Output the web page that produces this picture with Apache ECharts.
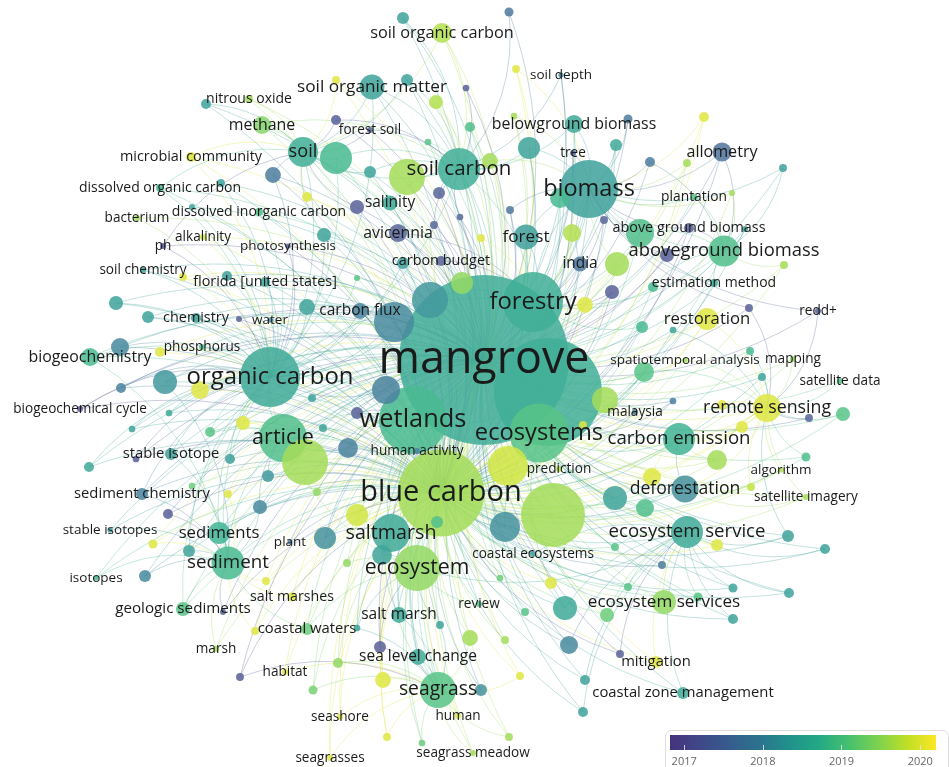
<!DOCTYPE html>
<html>
<head>
<meta charset="utf-8">
<title>Keyword co-occurrence overlay</title>
<script src="https://cdn.jsdelivr.net/npm/echarts@6/dist/echarts.min.js"></script>
<style>
  html, body { margin: 0; padding: 0; background: #ffffff; }
  #chart { width: 949px; height: 767px; }
</style>
</head>
<body>
<div id="chart"></div>
<script>
// Each term: [label, layout x, layout y, occurrences, average publication year, linked hub codes]

// hub code -> hub term
const hubCode = {
  M: 'mangrove', B: 'blue carbon', W: 'wetlands', E: 'ecosystems', F: 'forestry',
  O: 'organic carbon', S: 'soil carbon', I: 'biomass', A: 'article', Y: 'ecosystem',
  T: 'saltmarsh', L: 'sediment', G: 'seagrass', C: 'ecosystem service', D: 'deforestation',
  R: 'remote sensing', K: 'carbon emission', P: 'aboveground biomass', Q: 'soil'
};

const coreTerms = [
  ['mangrove', 484, 360, 3211, 2018.55, ''],
  ['blue carbon', 441, 493, 841, 2019.6, 'M'],
  ['wetlands', 413, 420, 514, 2018.8, 'M B'],
  ['ecosystems', 539, 433, 387, 2019.0, 'M B W'],
  ['forestry', 533, 302, 400, 2018.6, 'M B I W'],
  ['organic carbon', 270, 377, 400, 2018.5, 'M B W F'],
  ['biomass', 589, 189, 374, 2018.35, 'M F B W'],
  ['soil carbon', 459, 169, 196, 2018.6, 'M O F Q B'],
  ['article', 283, 438, 256, 2018.9, 'M B W O'],
  ['ecosystem', 417, 568, 235, 2019.5, 'M B W A'],
  ['saltmarsh', 391, 533, 160, 2018.5, 'M B Y W'],
  ['sediment', 228, 563, 121, 2018.8, 'M B O A'],
  ['seagrass', 438, 690, 144, 2019.0, 'M B Y T'],
  ['ecosystem service', 687, 532, 114, 2018.5, 'M B E Y'],
  ['carbon emission', 679, 439, 114, 2018.7, 'M B E'],
  ['deforestation', 685, 489, 81, 2018.1, 'M B E K'],
  ['remote sensing', 767, 408, 87, 2020.0, 'M E D K B'],
  ['aboveground biomass', 724, 251, 107, 2018.9, 'M I F B'],
  ['soil', 303, 152, 100, 2018.6, 'M O B']
];

const northTerms = [
  ['soil organic carbon', 442, 33, 44, 2019.7, 'S Q M B'],
  ['soil depth', 561, 75, 3, 2018.0, 'S M B'],
  ['soil organic matter', 372, 87, 69, 2018.4, 'S Q M O B'],
  ['nitrous oxide', 249, 99, 7, 2019.6, 'Q M B'],
  ['methane', 262, 125, 36, 2019.4, 'Q S M B'],
  ['forest soil', 370, 130, 4, 2017.3, 'S Q M'],
  ['belowground biomass', 574, 124, 36, 2018.5, 'I S M B'],
  ['tree', 573, 153, 4, 2017.3, 'I M B'],
  ['microbial community', 191, 157, 11, 2020.0, 'Q O M B'],
  ['dissolved organic carbon', 160, 188, 7, 2018.8, 'O Q M B'],
  ['dissolved inorganic carbon', 259, 212, 7, 2018.9, 'O M B'],
  ['bacterium', 137, 218, 4, 2019.6, 'O M'],
  ['alkalinity', 203, 237, 4, 2019.9, 'O M B'],
  ['ph', 163, 246, 4, 2017.1, 'O Q M'],
  ['photosynthesis', 288, 246, 3, 2017.2, 'M O B'],
  ['salinity', 390, 203, 25, 2018.5, 'M S B'],
  ['avicennia', 398, 233, 36, 2017.3, 'M F B'],
  ['forest', 526, 237, 69, 2018.3, 'M I F B'],
  ['india', 580, 264, 25, 2017.7, 'M F I B'],
  ['carbon budget', 441, 261, 11, 2017.2, 'M F B'],
  ['allometry', 722, 152, 40, 2017.6, 'I P M B'],
  ['plantation', 694, 197, 5, 2019.0, 'I P M'],
  ['above ground biomass', 689, 228, 11, 2017.2, 'I P M B'],
  ['estimation method', 714, 283, 7, 2018.5, 'P I M B'],
  ['carbon flux', 360, 311, 28, 2017.9, 'M O W B']
];

const westTerms = [
  ['soil chemistry', 143, 270, 4, 2018.4, 'O M B'],
  ['florida [united states]', 265, 282, 11, 2018.4, 'M O B'],
  ['chemistry', 196, 318, 11, 2018.4, 'O M B'],
  ['water', 270, 320, 3, 2018.0, 'O M B'],
  ['phosphorus', 202, 347, 4, 2018.9, 'O M B'],
  ['biogeochemistry', 90, 357, 36, 2018.8, 'O M L B'],
  ['biogeochemical cycle', 80, 409, 4, 2017.1, 'O M B'],
  ['stable isotope', 171, 454, 16, 2018.4, 'O L M B'],
  ['sediment chemistry', 142, 494, 16, 2017.9, 'O L M B'],
  ['stable isotopes', 110, 530, 3, 2018.3, 'L M B'],
  ['sediments', 219, 533, 54, 2018.7, 'M B O L'],
  ['isotopes', 96, 578, 3, 2018.8, 'L M B'],
  ['plant', 290, 542, 3, 2017.7, 'M B'],
  ['geologic sediments', 183, 609, 22, 2019.0, 'L O M B'],
  ['salt marshes', 292, 597, 9, 2020.0, 'L B M'],
  ['coastal waters', 307, 629, 16, 2019.2, 'B L Y M'],
  ['marsh', 216, 649, 4, 2019.6, 'L B M'],
  ['habitat', 285, 672, 4, 2020.0, 'G B M'],
  ['human activity', 417, 451, 4, 2017.9, 'M W B']
];

const southTerms = [
  ['salt marsh', 399, 615, 28, 2018.5, 'M B Y T G'],
  ['coastal ecosystems', 533, 554, 4, 2018.3, 'M B C'],
  ['review', 479, 604, 4, 2019.0, 'B Y M'],
  ['sea level change', 418, 657, 28, 2018.5, 'M B G'],
  ['seashore', 340, 717, 4, 2020.0, 'G B M'],
  ['human', 458, 716, 4, 2020.0, 'G B M'],
  ['seagrass meadow', 473, 753, 4, 2019.6, 'G B M'],
  ['seagrasses', 330, 758, 4, 2020.0, 'G B M'],
  ['ecosystem services', 664, 602, 64, 2019.5, 'M B C'],
  ['mitigation', 656, 662, 16, 2020.0, 'C B M'],
  ['coastal zone management', 683, 693, 16, 2018.5, 'C M B']
];

const eastTerms = [
  ['restoration', 707, 319, 54, 2020.0, 'M B E R'],
  ['redd+', 818, 311, 4, 2017.3, 'R I M'],
  ['spatiotemporal analysis', 685, 360, 3, 2019.6, 'R M B'],
  ['mapping', 793, 359, 4, 2019.5, 'R M B'],
  ['satellite data', 840, 381, 4, 2019.0, 'R M'],
  ['malaysia', 635, 412, 4, 2017.8, 'M E B'],
  ['prediction', 559, 469, 4, 2019.7, 'M E B'],
  ['algorithm', 781, 470, 3, 2019.7, 'R D B'],
  ['satellite imagery', 806, 497, 4, 2019.6, 'R D M B']
];

// Terms whose labels are hidden: [layout x, layout y, occurrences, average year, linked hub codes]
const otherTerms = [
  [548, 392, 1296, 2018.6, 'M B W E F'],
  [403, 18, 16, 2018.4, 'S M B'], [509, 12, 9, 2017.7, 'S M'], [516, 69, 7, 2020.0, 'I M B'],
  [407, 80, 16, 2018.4, 'S Q M B'], [466, 88, 5, 2017.2, 'S M'], [336, 80, 7, 2020.0, 'Q M B'],
  [436, 102, 22, 2019.7, 'S M B'], [206, 104, 11, 2018.4, 'Q M B'], [336, 120, 11, 2017.2, 'Q S M'],
  [470, 127, 11, 2018.9, 'S M B'], [428, 142, 5, 2019.0, 'S M B'], [514, 116, 5, 2019.6, 'I M B'],
  [628, 119, 9, 2017.8, 'I M'], [529, 148, 54, 2018.4, 'I S M B'], [616, 145, 16, 2018.5, 'I M B'],
  [336, 158, 114, 2018.8, 'Q S M O B'], [407, 177, 144, 2019.6, 'S M B W'], [490, 161, 28, 2019.6, 'S I M B'],
  [370, 172, 16, 2018.4, 'S Q M B'], [439, 193, 16, 2017.3, 'S M B'], [357, 207, 22, 2017.2, 'M Q B'],
  [560, 198, 44, 2018.8, 'I M B'], [704, 117, 11, 2020.0, 'I M B'], [650, 162, 11, 2017.8, 'I P M'],
  [687, 163, 7, 2019.6, 'I M B'], [783, 168, 7, 2018.4, 'P I M'], [732, 193, 4, 2019.6, 'P I B'],
  [745, 229, 4, 2018.4, 'P M B'], [640, 233, 87, 2018.9, 'I P M F B'], [667, 255, 22, 2017.2, 'I P M'],
  [572, 233, 36, 2019.7, 'I M F B'], [604, 220, 7, 2017.3, 'I M B'], [481, 238, 7, 2020.0, 'M F B'],
  [434, 225, 7, 2017.3, 'M S B'], [460, 217, 5, 2017.4, 'M S B'], [510, 210, 7, 2017.7, 'I M B'],
  [617, 264, 64, 2019.6, 'M I F B'], [612, 292, 22, 2017.2, 'M F B'], [403, 263, 16, 2018.3, 'M O B'],
  [324, 235, 22, 2018.4, 'M O Q B'], [273, 175, 28, 2017.8, 'Q O M B'], [307, 197, 11, 2020.0, 'Q M B'],
  [221, 183, 7, 2018.4, 'O M B'], [192, 207, 4, 2018.4, 'O M B'], [183, 277, 7, 2020.0, 'O M B'],
  [227, 276, 11, 2018.3, 'O M B'], [148, 317, 16, 2018.4, 'O M B'], [116, 303, 22, 2018.4, 'O M B'],
  [239, 319, 4, 2017.2, 'O M B'], [160, 352, 11, 2020.0, 'O M B'], [120, 347, 36, 2018.0, 'O M B'],
  [165, 382, 64, 2018.2, 'O M L B'], [200, 390, 36, 2020.0, 'O B M'], [121, 388, 11, 2017.9, 'O M B'],
  [169, 413, 5, 2018.5, 'O M B'], [243, 423, 22, 2020.0, 'O A B M'], [210, 432, 11, 2019.0, 'O A M B'],
  [132, 429, 5, 2018.4, 'O M B'], [305, 462, 235, 2019.6, 'M B A W O'], [136, 459, 5, 2017.2, 'O M B'],
  [230, 459, 11, 2018.3, 'O A M B'], [89, 467, 11, 2018.5, 'O M B'], [228, 494, 7, 2020.0, 'L A B M'],
  [192, 486, 5, 2019.2, 'L M B'], [268, 476, 16, 2018.2, 'A M B'], [168, 514, 11, 2017.2, 'L M B'],
  [153, 544, 9, 2020.0, 'L B M'], [189, 551, 16, 2018.4, 'L O M B'], [145, 576, 16, 2018.0, 'L M B'],
  [266, 581, 7, 2020.0, 'L B M'], [223, 612, 4, 2017.3, 'L M B'], [255, 631, 7, 2020.0, 'L B M'],
  [357, 628, 5, 2018.4, 'Y G M B'], [240, 677, 7, 2017.2, 'G M B'], [313, 690, 9, 2019.3, 'G B M'],
  [325, 538, 54, 2018.1, 'M B T W'], [382, 555, 44, 2018.4, 'T Y B M'], [437, 522, 16, 2018.9, 'B T M'],
  [357, 515, 54, 2019.9, 'B T M W'], [505, 527, 100, 2018.1, 'M B E W'], [553, 515, 455, 2019.6, 'M B E C W'],
  [440, 625, 7, 2018.4, 'Y G M B'], [470, 638, 28, 2019.6, 'B G M'], [380, 647, 16, 2017.2, 'G Y M B'],
  [338, 663, 11, 2019.5, 'G B M'], [383, 680, 28, 2020.0, 'G B M'], [481, 690, 16, 2018.1, 'G M B'],
  [387, 737, 7, 2020.0, 'G B M'], [509, 737, 7, 2019.6, 'G B M'], [422, 743, 5, 2019.2, 'G B M'],
  [505, 640, 7, 2019.6, 'B M'], [565, 608, 64, 2018.5, 'M B C E'], [569, 645, 36, 2018.0, 'C B M'],
  [525, 612, 7, 2019.0, 'B M'], [628, 587, 7, 2019.0, 'C M B'], [551, 583, 16, 2020.0, 'B M E'],
  [500, 578, 5, 2019.2, 'B M'], [607, 615, 22, 2019.2, 'C B M'], [698, 597, 9, 2019.0, 'C M B'],
  [733, 588, 9, 2018.4, 'C M B'], [733, 619, 11, 2018.4, 'C M B'], [789, 593, 11, 2018.4, 'C M B'],
  [620, 654, 7, 2017.2, 'C M B'], [585, 680, 11, 2018.4, 'C M B'], [583, 712, 11, 2018.4, 'C B M'],
  [520, 676, 7, 2020.0, 'B G M'], [717, 545, 16, 2020.0, 'C B M'], [662, 565, 7, 2017.8, 'C M B'],
  [788, 536, 16, 2018.4, 'C R M B'], [825, 549, 11, 2018.4, 'C M B'], [615, 498, 64, 2018.4, 'M E D B'],
  [645, 508, 36, 2018.9, 'E D C M B'], [652, 477, 36, 2020.0, 'E K M B'], [751, 487, 7, 2019.8, 'R B M'],
  [806, 457, 9, 2018.9, 'R M B'], [717, 460, 44, 2019.6, 'K R E M B'], [742, 427, 16, 2020.0, 'R K M B'],
  [722, 405, 11, 2020.0, 'R M B'], [809, 418, 7, 2017.3, 'R M'], [843, 414, 22, 2019.0, 'R M B'],
  [673, 401, 5, 2017.8, 'E M B'], [605, 400, 75, 2019.6, 'M E B'], [644, 372, 44, 2019.0, 'M E R B'],
  [762, 377, 7, 2018.4, 'R M B'], [750, 351, 7, 2018.8, 'R M B'], [642, 327, 16, 2018.8, 'M F B'],
  [673, 330, 5, 2018.4, 'M R B'], [653, 287, 11, 2018.8, 'P F M B'], [749, 308, 7, 2017.2, 'R I M'],
  [784, 265, 7, 2019.6, 'P M B'], [585, 305, 28, 2020.0, 'M F B'], [462, 283, 54, 2019.5, 'M F B W'],
  [394, 322, 178, 2018.0, 'M O W B'], [430, 300, 144, 2018.2, 'M F O B'], [386, 390, 87, 2017.9, 'M W O B'],
  [357, 413, 16, 2017.2, 'W M B'], [348, 448, 44, 2017.9, 'W A M B'], [508, 466, 178, 2019.9, 'M E B W'],
  [583, 425, 7, 2020.0, 'E M B'], [307, 307, 28, 2018.4, 'O M B'], [312, 398, 7, 2018.4, 'O M B'],
  [323, 428, 7, 2018.4, 'A M B'], [260, 507, 22, 2018.0, 'A L M B'], [317, 492, 7, 2019.5, 'A B M'],
  [347, 563, 7, 2019.5, 'Y M B'], [615, 547, 7, 2019.0, 'C M B'], [357, 278, 4, 2019.0, 'M O B']
];

// overlay colour scale (average publication year)
const yearRange = [2016.82, 2020.2];
const yearTicks = [2017, 2018, 2019, 2020];
const palette = ['#46337e', '#3f4889', '#365c8d', '#2c728e', '#21918c', '#22a884',
                 '#44bf70', '#7ad151', '#bddf26', '#fde725'];

function hexToRgb(h) {
  return [1, 3, 5].map(i => parseInt(h.slice(i, i + 2), 16));
}
function yearRgb(year) {
  let t = (year - yearRange[0]) / (yearRange[1] - yearRange[0]);
  t = Math.max(0, Math.min(1, t));
  const p = t * (palette.length - 1);
  const i = Math.min(Math.floor(p), palette.length - 2);
  const f = p - i;
  const a = hexToRgb(palette[i]), b = hexToRgb(palette[i + 1]);
  return a.map((v, k) => v + (b[k] - v) * f);
}
function yearColor(year, tint) {
  const w = tint || 0;
  const c = yearRgb(year).map(v => Math.round(v + (255 - v) * w));
  return 'rgb(' + c.join(',') + ')';
}

const terms = [];
[coreTerms, northTerms, westTerms, southTerms, eastTerms].forEach(group => {
  group.forEach(r => terms.push({ id: r[0], label: r[0], x: r[1], y: r[2], occ: r[3], year: r[4], hubs: r[5] }));
});
otherTerms.forEach((r, i) => {
  terms.push({ id: 'term-' + i, label: '', x: r[0], y: r[1], occ: r[2], year: r[3], hubs: r[4] });
});

const nodeSize = occ => 3 * Math.sqrt(occ);
const labelSize = d => Math.round((12.5 + 0.19 * d) * 10) / 10;

// larger circles first so smaller ones sit on top
const nodes = terms.slice().sort((a, b) => b.occ - a.occ).map(t => {
  const d = nodeSize(t.occ);
  return {
    name: t.id,
    value: [t.x, t.y],
    symbolSize: d,
    itemStyle: { color: yearColor(t.year, 0.14) },
    label: t.label ? { show: true, fontSize: labelSize(d) } : { show: false }
  };
});

// each link takes the colour of the term it starts from
const links = [];
terms.forEach(t => {
  t.hubs.split(' ').filter(Boolean).forEach(code => {
    links.push({ source: t.id, target: hubCode[code], lineStyle: { color: yearColor(t.year, 0.1) } });
  });
});

const gradientStops = palette.map((c, i) => ({ offset: i / (palette.length - 1), color: c }));

const chart = echarts.init(document.getElementById('chart'), null, { renderer: 'canvas' });
chart.setOption({
  backgroundColor: '#ffffff',
  animation: false,
  grid: [
    { left: 0, top: 0, right: 0, bottom: 0 },
    { left: 670, top: 735, width: 266, height: 15, show: true, borderWidth: 0,
      backgroundColor: new echarts.graphic.LinearGradient(0, 0, 1, 0, gradientStops) }
  ],
  xAxis: [
    { gridIndex: 0, type: 'value', min: 0, max: 949, show: false },
    { gridIndex: 1, type: 'value', min: yearRange[0], max: yearRange[1],
      axisLine: { show: false }, splitLine: { show: false },
      axisTick: { show: true, customValues: yearTicks, inside: true, length: 5,
                  lineStyle: { color: 'rgba(225,225,225,0.9)', width: 1 } },
      axisLabel: { show: true, customValues: yearTicks, color: '#666', fontSize: 11,
                   margin: 6, fontFamily: 'Open Sans', formatter: v => String(Math.round(v)) } }
  ],
  yAxis: [
    { gridIndex: 0, type: 'value', min: 0, max: 767, inverse: true, show: false },
    { gridIndex: 1, type: 'value', min: 0, max: 1, show: false }
  ],
  graphic: [
    { type: 'rect', left: 663, top: 728, shape: { width: 283, height: 46, r: 6 },
      style: { fill: 'none', stroke: '#dedede', lineWidth: 1 }, silent: true }
  ],
  series: [{
    type: 'graph',
    coordinateSystem: 'cartesian2d',
    xAxisIndex: 0,
    yAxisIndex: 0,
    layout: 'none',
    silent: true,
    data: nodes,
    links: links,
    edgeSymbol: ['none', 'none'],
    lineStyle: { width: 1, opacity: 0.3, curveness: 0.22 },
    itemStyle: { opacity: 0.86 },
    label: { position: 'inside', color: '#1a1a1a', opacity: 1, fontFamily: 'Open Sans' },
    emphasis: { disabled: true },
    z: 2
  }]
});
</script>
</body>
</html>
